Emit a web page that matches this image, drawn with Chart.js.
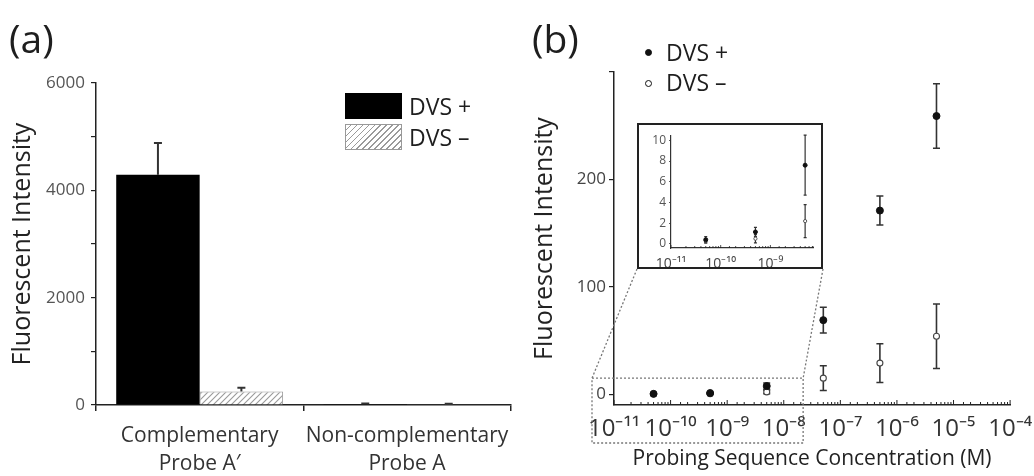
<!DOCTYPE html>
<html><head><meta charset="utf-8">
<script src="https://cdn.jsdelivr.net/npm/chart.js@4.4.1/dist/chart.umd.min.js"></script>
<style>
html,body{margin:0;padding:0;background:#fff;}
#wrap{position:relative;width:1034px;height:476px;overflow:hidden;font-family:'Open Sans',sans-serif;color:#1e1e1e;}
canvas{position:absolute;}
#ca{left:0;top:0;}
#cb{left:520px;top:0;}
#insetBox{position:absolute;left:637px;top:123px;width:186px;height:146px;box-sizing:border-box;border:2px solid #222;background:#fff;}
#ci{left:0;top:0;}
.lbl{position:absolute;white-space:nowrap;line-height:30px;font-size:23px;}
.sw{position:absolute;box-sizing:border-box;}
.dot{position:absolute;width:7px;height:7px;border-radius:50%;box-sizing:border-box;border:1.3px solid #111;}
</style></head>
<body>
<div id="wrap">
  <canvas id="ca" width="520" height="476"></canvas>
  <canvas id="cb" width="514" height="476"></canvas>
  <div id="insetBox"><canvas id="ci" width="182" height="142"></canvas></div>
  <div class="lbl" style="left:9px;top:13px;font-size:39px;line-height:50px;">(a)</div>
  <div class="lbl" style="left:532px;top:13px;font-size:39px;line-height:50px;">(b)</div>
  <div class="sw" style="left:345px;top:93px;width:57px;height:26px;background:#000;"></div>
  <div class="sw" style="left:345px;top:124px;width:57px;height:26px;border:1px solid #999;background:repeating-linear-gradient(135deg,#fff 0px,#fff 3px,#9a9a9a 3px,#9a9a9a 4.2px);"></div>
  <div class="lbl" style="left:409px;top:91px;">DVS +</div>
  <div class="lbl" style="left:409px;top:122px;">DVS –</div>
  <div class="dot" style="left:645px;top:49px;background:#111;"></div>
  <div class="dot" style="left:645px;top:80px;background:#fff;"></div>
  <div class="lbl" style="left:666px;top:37px;">DVS +</div>
  <div class="lbl" style="left:666px;top:67px;">DVS –</div>
</div>
<script>
// ---------- data ----------
const categories = [['Complementary', 'Probe A′'], ['Non-complementary', 'Probe A']];
const barPlus = [4290, 15];
const barPlusErr = [590, 12];
const barMinus = [250, 12];
const barMinusErr = [70, 10];
const yTicksA = [0, 1000, 2000, 3000, 4000, 5000, 6000];
const yTickLabelsA = ['0', '', '2000', '', '4000', '', '6000'];

const concentrations = [5e-11, 5e-10, 5e-9, 5e-8, 5e-7, 5e-6];
const dvsPlus = [0.4, 1.15, 7.6, 69, 171, 259];
const dvsPlusErr = [0.3, 0.45, 2.9, 12, 13.5, 30];
const dvsMinus = [0.3, 0.5, 2.2, 15, 29, 54];
const dvsMinusErr = [0.2, 0.4, 1.6, 11.5, 18, 30];
const decades = [1e-11, 1e-10, 1e-9, 1e-8, 1e-7, 1e-6, 1e-5, 1e-4];
const decadeLabels = ['10⁻¹¹', '10⁻¹⁰', '10⁻⁹', '10⁻⁸', '10⁻⁷', '10⁻⁶', '10⁻⁵', '10⁻⁴'];
const yTicksB = [0, 100, 200, 300];
const yTickLabelsB = ['0', '100', '200', ''];
const insetCount = 3;
const yTicksInset = [0, 2, 4, 6, 8, 10];
const zoomBoxTop = 15;        // data value of dashed box top
const zoomBoxRight = 2.2e-8;  // data value of dashed box right edge

const FAM = "'Open Sans', sans-serif";
const INK = '#222';

function decadeLabel(v) {
  const l = Math.log10(v);
  if (Math.abs(l - Math.round(l)) > 1e-6) return '';
  const i = decades.findIndex(d => Math.abs(Math.log10(d) - l) < 1e-6);
  return i >= 0 ? decadeLabels[i] : '';
}

// hatch pattern
function hatch() {
  const c = document.createElement('canvas');
  c.width = 6; c.height = 6;
  const g = c.getContext('2d');
  g.fillStyle = '#fff'; g.fillRect(0, 0, 6, 6);
  g.strokeStyle = '#9a9a9a'; g.lineWidth = 1.1;
  g.beginPath();
  g.moveTo(0, 6); g.lineTo(6, 0);
  g.moveTo(-1, 1); g.lineTo(1, -1);
  g.moveTo(5, 7); g.lineTo(7, 5);
  g.stroke();
  return g.createPattern(c, 'repeat');
}

// error bar plugin
const errorBars = {
  id: 'errorBars',
  beforeDatasetsDraw(chart, args, opts) {
    const ctx = chart.ctx, ys = chart.scales.y;
    ctx.save();
    ctx.strokeStyle = opts.color || INK;
    ctx.lineWidth = opts.width || 1.5;
    chart.data.datasets.forEach((ds, di) => {
      if (!ds.errors) return;
      const meta = chart.getDatasetMeta(di);
      meta.data.forEach((el, i) => {
        const raw = ds.data[i];
        const v = (typeof raw === 'object') ? raw.y : raw;
        const e = ds.errors[i];
        const x = el.x;
        const yT = ys.getPixelForValue(v + e);
        const yB = opts.upOnly ? ys.getPixelForValue(v) : ys.getPixelForValue(v - e);
        const cw = opts.cap || 6;
        ctx.beginPath();
        ctx.moveTo(x, yT); ctx.lineTo(x, yB);
        ctx.moveTo(x - cw / 2, yT); ctx.lineTo(x + cw / 2, yT);
        if (!opts.upOnly) { ctx.moveTo(x - cw / 2, yB); ctx.lineTo(x + cw / 2, yB); }
        ctx.stroke();
      });
    });
    ctx.restore();
  }
};

// inward log minor ticks
const inTicks = {
  id: 'inTicks',
  afterDraw(chart, args, opts) {
    const xs = chart.scales.x, ctx = chart.ctx;
    ctx.save();
    ctx.strokeStyle = INK; ctx.lineWidth = opts.width || 1;
    xs.ticks.forEach(t => {
      const px = xs.getPixelForValue(t.value);
      if (px < xs.left - 0.5 || px > xs.right + 0.5) return;
      const major = decadeLabel(t.value) !== '';
      const len = major ? (opts.major || 5) : (opts.minor || 3);
      ctx.beginPath();
      ctx.moveTo(px, xs.top); ctx.lineTo(px, xs.top - len);
      ctx.stroke();
    });
    ctx.restore();
  }
};

// dashed zoom box and connectors
const zoomGuide = {
  id: 'zoomGuide',
  afterDraw(chart) {
    const xs = chart.scales.x, ys = chart.scales.y, ctx = chart.ctx;
    const top = ys.getPixelForValue(zoomBoxTop);
    const right = xs.getPixelForValue(zoomBoxRight);
    const left = xs.left - 22, bottom = xs.bottom - 33;
    const canvasLeft = chart.canvas.offsetLeft;
    const box = document.getElementById('insetBox');
    const bl = box.offsetLeft - canvasLeft, br = bl + box.offsetWidth, bb = box.offsetTop + box.offsetHeight;
    ctx.save();
    ctx.strokeStyle = '#777'; ctx.lineWidth = 1.3; ctx.setLineDash([2, 2]);
    ctx.strokeRect(left, top, right - left, bottom - top);
    ctx.beginPath();
    ctx.moveTo(bl, bb); ctx.lineTo(left, top);
    ctx.moveTo(br, bb); ctx.lineTo(right, top);
    ctx.stroke();
    ctx.restore();
  }
};

// ---------- chart (a) ----------
new Chart(document.getElementById('ca'), {
  type: 'bar',
  data: {
    labels: categories,
    datasets: [
      { label: 'DVS +', data: barPlus, errors: barPlusErr, backgroundColor: '#000', borderColor: '#000', borderWidth: 0 },
      { label: 'DVS –', data: barMinus, errors: barMinusErr, backgroundColor: hatch(), borderColor: '#999', borderWidth: 1 }
    ]
  },
  plugins: [errorBars],
  options: {
    responsive: false, animation: false,
    layout: { padding: { top: 83, right: 3, left: 0, bottom: 0 } },
    datasets: { bar: { categoryPercentage: 0.805, barPercentage: 1 } },
    plugins: {
      legend: { display: false }, tooltip: { enabled: false },
      errorBars: { upOnly: true, cap: 8, width: 2, color: '#333' }
    },
    scales: {
      x: {
        grid: { drawOnChartArea: false, tickLength: 6, color: INK, lineWidth: 1.5, offset: true },
        border: { color: INK, width: 1.5 },
        ticks: { font: { family: FAM, size: 21, lineHeight: 1.33 }, color: '#333', padding: 11, maxRotation: 0, autoSkip: false },
        afterFit(s) { s.height = 71; }
      },
      y: {
        min: 0, max: 6000,
        afterBuildTicks(s) { s.ticks = yTicksA.map(v => ({ value: v })); },
        grid: { drawOnChartArea: false, tickLength: 5, color: INK, lineWidth: 1.2 },
        border: { color: INK, width: 1.5 },
        ticks: { callback: (v, i) => yTickLabelsA[i], font: { family: FAM, size: 17 }, color: '#555', padding: 6 },
        title: { display: true, text: 'Fluorescent Intensity', font: { family: FAM, size: 25 }, color: '#222', padding: { top: 8, bottom: 0 } },
        afterFit(s) { s.width = 96; }
      }
    }
  }
});

// ---------- chart (b) ----------
const ptsPlus = concentrations.map((c, i) => ({ x: c, y: dvsPlus[i] }));
const ptsMinus = concentrations.map((c, i) => ({ x: c, y: dvsMinus[i] }));

new Chart(document.getElementById('cb'), {
  type: 'scatter',
  data: {
    datasets: [
      { label: 'DVS +', data: ptsPlus, errors: dvsPlusErr, pointRadius: 3.5, pointBackgroundColor: '#111', pointBorderColor: '#111', pointBorderWidth: 1 },
      { label: 'DVS –', data: ptsMinus, errors: dvsMinusErr, pointRadius: 3, pointBackgroundColor: '#fff', pointBorderColor: '#444', pointBorderWidth: 1.1 }
    ]
  },
  plugins: [errorBars, inTicks, zoomGuide],
  options: {
    responsive: false, animation: false,
    layout: { padding: { top: 72, right: 15, left: 0, bottom: 0 } },
    plugins: {
      legend: { display: false }, tooltip: { enabled: false },
      errorBars: { cap: 7, width: 1.6, color: '#333' },
      inTicks: { major: 5, minor: 3, width: 1 }
    },
    scales: {
      x: {
        type: 'logarithmic', min: 1e-11, max: 1e-4,
        grid: { display: false },
        border: { color: INK, width: 1.5 },
        ticks: { callback: v => decadeLabel(v), autoSkip: false, maxRotation: 0, font: { family: FAM, size: 24 }, color: '#333', padding: 2 },
        title: { display: true, text: 'Probing Sequence Concentration (M)', font: { family: FAM, size: 21 }, color: '#222', padding: { top: 0, bottom: 4 } },
        afterFit(s) { s.height = 71; }
      },
      y: {
        min: -10, max: 300,
        afterBuildTicks(s) { s.ticks = yTicksB.map(v => ({ value: v })); },
        grid: { drawOnChartArea: false, tickLength: 5, color: INK, lineWidth: 1.2 },
        border: { color: INK, width: 1.5 },
        ticks: { callback: (v, i) => yTickLabelsB[i], font: { family: FAM, size: 17 }, color: '#444', padding: 3 },
        title: { display: true, text: 'Fluorescent Intensity', font: { family: FAM, size: 25 }, color: '#222', padding: { top: 10, bottom: 0 } },
        afterFit(s) { s.width = 94; }
      }
    }
  }
});

// ---------- inset ----------
new Chart(document.getElementById('ci'), {
  type: 'scatter',
  data: {
    datasets: [
      { label: 'DVS +', data: ptsPlus.slice(0, insetCount), errors: dvsPlusErr.slice(0, insetCount), pointRadius: 2, pointBackgroundColor: '#111', pointBorderColor: '#111', pointBorderWidth: 1 },
      { label: 'DVS –', data: ptsMinus.slice(0, insetCount), errors: dvsMinusErr.slice(0, insetCount), pointRadius: 1.6, pointBackgroundColor: '#fff', pointBorderColor: '#444', pointBorderWidth: 0.9 }
    ]
  },
  plugins: [errorBars, inTicks],
  options: {
    responsive: false, animation: false,
    layout: { padding: { top: 7, right: 8, left: 0, bottom: 0 } },
    plugins: {
      legend: { display: false }, tooltip: { enabled: false },
      errorBars: { cap: 3, width: 1.2, color: '#333' },
      inTicks: { major: 3, minor: 2, width: 0.8 }
    },
    scales: {
      x: {
        type: 'logarithmic', min: 1e-11, max: 7.2e-9,
        grid: { display: false },
        border: { color: '#333', width: 1.2 },
        ticks: { callback: v => decadeLabel(v), autoSkip: false, maxRotation: 0, font: { family: FAM, size: 14 }, color: '#444', padding: 0 },
        afterFit(s) { s.height = 19; }
      },
      y: {
        min: -0.4, max: 10.5,
        afterBuildTicks(s) { s.ticks = yTicksInset.map(v => ({ value: v })); },
        grid: { drawOnChartArea: false, tickLength: 2, color: '#333', lineWidth: 0.8 },
        border: { color: '#333', width: 1.2 },
        ticks: { font: { family: FAM, size: 12 }, color: '#555', padding: 3 },
        afterFit(s) { s.width = 32; }
      }
    }
  }
});
</script>
</body></html>
